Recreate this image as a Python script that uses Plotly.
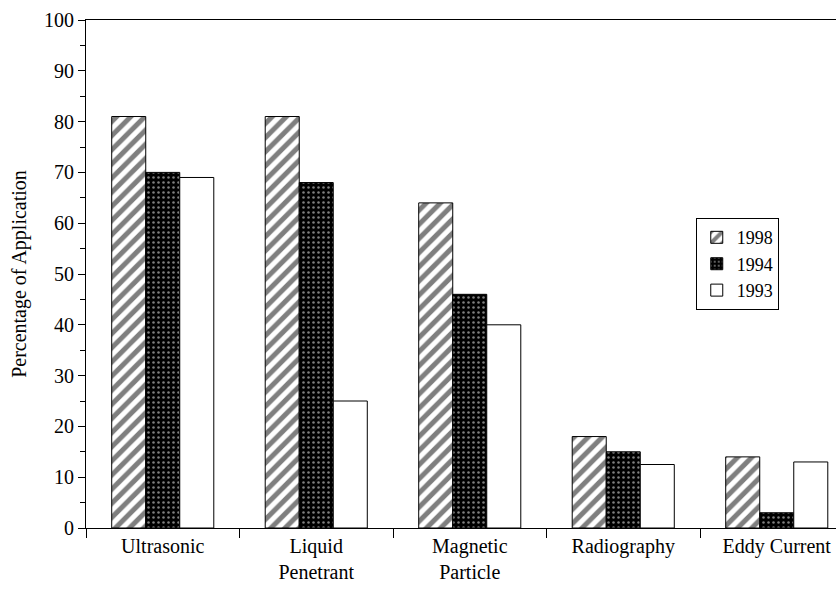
import plotly.graph_objects as go

categories = ["Ultrasonic", "Liquid<br>Penetrant", "Magnetic<br>Particle", "Radiography", "Eddy Current"]
v1998 = [81, 81, 64, 18, 14]
v1994 = [70, 68, 46, 15, 3]
v1993 = [69, 25, 40, 12.5, 13]
y_ticks = list(range(0, 101, 10))

font = dict(family="Times New Roman, Liberation Serif, DejaVu Serif, serif", size=20, color="black")
legend_font = dict(family=font["family"], size=18, color="black")

fig = go.Figure()
fig.add_trace(go.Bar(
    name="1998", x=categories, y=v1998,
    marker=dict(color="white", line=dict(color="black", width=1),
                pattern=dict(shape="/", fgcolor="black", bgcolor="white", size=10, solidity=0.5)),
))
fig.add_trace(go.Bar(
    name="1994", x=categories, y=v1994,
    marker=dict(color="black", line=dict(color="black", width=1),
                pattern=dict(shape=".", fgcolor="white", bgcolor="black", size=5, solidity=0.2)),
))
fig.add_trace(go.Bar(
    name="1993", x=categories, y=v1993,
    marker=dict(color="white", line=dict(color="black", width=1)),
))

fig.update_layout(
    width=836, height=594,
    margin=dict(l=86, r=0, t=20, b=66),
    paper_bgcolor="white", plot_bgcolor="white",
    font=font,
    barmode="group", bargap=0.335, bargroupgap=0,
    showlegend=True,
    legend=dict(x=0.813, y=0.61, xanchor="left", yanchor="top",
                bordercolor="black", borderwidth=1, bgcolor="white",
                font=legend_font, itemwidth=30, tracegroupgap=0),
    xaxis=dict(range=[-0.5, 4.386], showline=True, mirror=True, linecolor="black", linewidth=1,
               ticks="outside", tickson="boundaries", ticklen=9, tickcolor="black",
               showgrid=False, zeroline=False, tickfont=font, automargin=False),
    yaxis=dict(range=[0, 100], tickvals=y_ticks, showline=True, linecolor="black", linewidth=1,
               ticks="outside", ticklen=7, tickcolor="black",
               minor=dict(dtick=5, ticks="outside", ticklen=5, tickcolor="black"),
               showgrid=False, zeroline=False, tickfont=font, automargin=False,
               title=dict(text="Percentage of Application", font=font, standoff=12)),
)

fig.write_html("out.html", config={"displayModeBar": False},
               post_script="document.body.style.margin='0';document.body.style.overflow='hidden';")
